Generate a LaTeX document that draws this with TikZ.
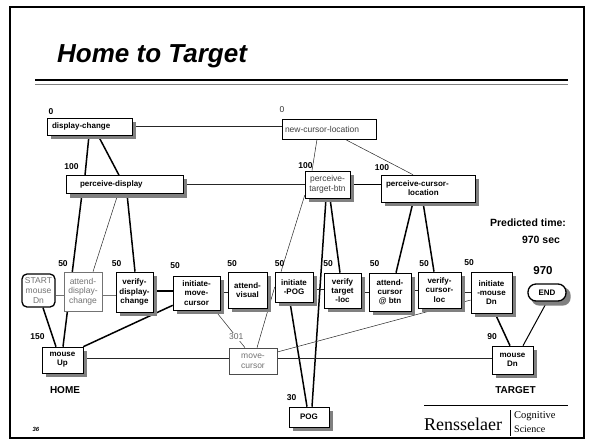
\documentclass[tikz,border=0pt]{standalone}
\usepackage{fontspec}
\setmainfont{Liberation Sans}
\newfontfamily\logofont{Liberation Serif}
\usetikzlibrary{calc}
\pgfdeclarelayer{wires}
\pgfdeclarelayer{shades}
\pgfsetlayers{wires,shades,main}
\colorlet{shadowgray}{black!50}

\begin{document}
\begin{tikzpicture}[x=1pt,y=-1pt,
  op/.style={draw, fill=white, line width=0.6pt, inner sep=0.5pt, align=center,
    font=\fontsize{8}{9.2}\selectfont\bfseries},
  dim/.style={text=black!55, font=\fontsize{8.5}{9.6}\selectfont},
  dur/.style={font=\fontsize{8.5}{10}\selectfont\bfseries, inner sep=0pt},
  big/.style={font=\fontsize{10.5}{12.5}\selectfont\bfseries, inner sep=0pt, align=center},
  thick wire/.style={line width=1.5pt},
  thin wire/.style={line width=0.5pt, black!85},
]
\useasboundingbox (0,0) rectangle (594,440);

% frame and title
\draw[line width=1.2pt] (10,7) rectangle (584,438);
\node[anchor=base west, inner sep=0pt, font=\fontsize{26}{30}\selectfont\bfseries\itshape] (title) at (57,62) {Home to Target};
\draw[line width=2.5pt] (35,80) -- (568,80);
\draw[line width=1.2pt, black!50] (35,84.5) -- (568,84.5);

% perceptual operators
\node[op, text width=75pt, inner xsep=5pt, align=left, minimum height=17pt] (dc) at (89.5,126.5) {display-change};
\node[op, dim, text=black!75, text width=88pt, inner xsep=3pt, align=left, minimum height=20pt] (ncl) at (329,129) {new-cursor-location};
\node[op, text width=89pt, inner xsep=14pt, align=left, minimum height=18pt] (pd) at (124.5,184.5) {perceive-display};
\node[op, dim, text=black!75, minimum width=45pt, minimum height=27pt] (ptb) at (327.5,184.5) {perceive-\\target-btn};
\node[op, text width=84pt, inner xsep=5pt, align=left, minimum height=27pt] (pcl) at (428,188.5) {perceive-cursor-\\\hspace*{22pt}location};

% cognitive operators
\node[op, dim, rounded corners=5pt, line width=1.3pt, draw=black, minimum width=33pt, minimum height=33pt] (start) at (38.5,290.5) {START\\mouse\\Dn};
\node[op, dim, draw=black!55, minimum width=38pt, minimum height=39pt] (adc) at (83,291.5) {attend-\\display-\\change};
\node[op, minimum width=37pt, minimum height=40pt] (vdc) at (134.5,292) {verify-\\display-\\change};
\node[op, minimum width=47pt, minimum height=34pt] (imc) at (196.5,293) {initiate-\\move-\\cursor};
\node[op, minimum width=39pt, minimum height=36pt] (av) at (247.5,290) {attend-\\visual};
\node[op, minimum width=38pt, minimum height=30pt] (ipog) at (294,287) {initiate\\-POG};
\node[op, minimum width=37pt, minimum height=35pt] (vtl) at (342.5,290.5) {verify\\target\\-loc};
\node[op, minimum width=42pt, minimum height=38pt] (acb) at (390,292) {attend-\\cursor\\@ btn};
\node[op, minimum width=43pt, minimum height=36pt] (vcl) at (439.5,290) {verify-\\cursor-\\loc};
\node[op, minimum width=41pt, minimum height=41pt] (imd) at (491.5,292.5) {initiate\\-mouse\\Dn};
\node[op, rounded corners=8pt, line width=1.3pt, minimum width=38pt, minimum height=17pt] (end) at (547,292.5) {END};

% motor operators
\node[op, minimum width=41pt, minimum height=26pt] (mu) at (62.5,360) {mouse\\Up};
\node[op, dim, draw=black!70, minimum width=48pt, minimum height=26pt] (mc) at (253,361) {move-\\cursor};
\node[op, minimum width=41pt, minimum height=28pt] (mdn) at (512.5,360) {mouse\\Dn};
\node[op, minimum width=40pt, minimum height=20pt] (pog) at (309,417) {POG};

% durations
\node[dur] (t-dc) at (51,112) {0};
\node[dur, font=\fontsize{8.5}{10}\selectfont, text=black!80] (t-ncl) at (282,110) {0};
\node[dur] (t-pd) at (71.5,167) {100};
\node[dur] (t-ptb) at (305.5,166) {100};
\node[dur] (t-pcl) at (382,168) {100};
\node[dur] (t-adc) at (63,264) {50};
\node[dur] (t-vdc) at (116.5,264) {50};
\node[dur] (t-imc) at (175,266) {50};
\node[dur] (t-av) at (232,264) {50};
\node[dur] (t-ipog) at (279.5,264) {50};
\node[dur] (t-vtl) at (328,264) {50};
\node[dur] (t-acb) at (374.5,264) {50};
\node[dur] (t-vcl) at (424,264) {50};
\node[dur] (t-imd) at (469,263) {50};
\node[dur] (t-mu) at (37.5,337) {150};
\node[dur] (t-mdn) at (492,337) {90};
\node[dur] (t-pog) at (291.5,398) {30};
\node[font=\fontsize{11.5}{13}\selectfont\bfseries, inner sep=0pt] (t-end) at (543,271) {970};
\node[big] (predicted) at (528,223) {Predicted time:};
\node[big] (total) at (541,240) {970 sec};
\node[big, font=\fontsize{10}{12}\selectfont\bfseries] (home) at (65,390) {HOME};
\node[big, font=\fontsize{10}{12}\selectfont\bfseries] (target) at (515.5,390) {TARGET};
\node[inner sep=0pt, font=\fontsize{6}{7}\selectfont\bfseries\itshape] (pageno) at (36,429) {36};

% logo
\draw[line width=1pt] (424,405) -- (568,405);
\node[anchor=base west, inner sep=0pt, font=\logofont\fontsize{18}{20}\selectfont] (rpi) at (424,430) {Rensselaer};
\draw[line width=1pt] (510,410) -- (510,436);
\node[anchor=base west, inner sep=0pt, font=\logofont\fontsize{10.5}{12}\selectfont] (cog) at (514,418) {Cognitive};
\node[anchor=base west, inner sep=0pt, font=\logofont\fontsize{10}{12}\selectfont] (sci) at (514,432) {Science};

% drop shadows of the boxed operators
\begin{pgfonlayer}{shades}
\foreach \n in {dc,pd,ptb,pcl,vdc,imc,av,ipog,vtl,acb,vcl,imd,mu,mdn,pog}
  \fill[shadowgray] ([shift={(4pt,-4pt)}]\n.south west) rectangle ([shift={(4pt,-4pt)}]\n.north east);
\fill[shadowgray, rounded corners=8pt] ([shift={(4pt,-4pt)}]end.south west) rectangle ([shift={(4pt,-4pt)}]end.north east);
\end{pgfonlayer}

% dependencies
\begin{pgfonlayer}{wires}
\draw[thin wire] (dc.east) -- (dc.east -| ncl.west);
\draw[thick wire] ([xshift=-0.5pt]dc.south) -- ([xshift=-39.5pt]pd.north);
\draw[thick wire] ([xshift=8.5pt]dc.south) -- ([xshift=-5.5pt]pd.north);
\draw[thin wire] (pd.east) -- (pd.east -| ptb.west);
\draw[thin wire] ([xshift=-12pt]ncl.south) -- ([xshift=-15.5pt]ptb.north);
\draw[thin wire] ([xshift=16pt]ncl.south) -- ([xshift=-15pt]pcl.north);
\draw[thick wire] (ptb.east) -- (ptb.east -| pcl.west);
\draw[thick wire] ([xshift=-42.5pt]pd.south) -- ([xshift=0.5pt]mu.north);
\draw[thin wire] ([xshift=-6.5pt]pd.south) -- ([xshift=10pt]adc.north);
\draw[thick wire] ([xshift=2.5pt]pd.south) -- ([xshift=0.5pt]vdc.north);
\draw[thin wire] ([yshift=3pt]ptb.south west) -- ([xshift=-13pt]ipog.north);
\draw[thick wire] ([xshift=3pt]pog.north) -- ([xshift=-1.5pt]ptb.south);
\draw[thick wire] ([xshift=2.5pt]ptb.south) -- ([xshift=-2.5pt]vtl.north);
\draw[thick wire] ([xshift=-4pt]ipog.south) -- ([xshift=-2pt]pog.north);
\draw[thick wire] ([xshift=-15pt]pcl.south) -- ([xshift=6pt]acb.north);
\draw[thick wire] ([xshift=-5pt]pcl.south) -- ([xshift=-5.5pt]vcl.north);
\draw[thin wire, black!55] ([yshift=-4.5pt]start.east) -- ([yshift=-3.5pt]adc.west);
\draw[thin wire, black!55] ([yshift=-3.5pt]adc.east) -- ([yshift=-3pt]vdc.west);
\draw[thick wire] ([yshift=1pt]vdc.east) -- ([yshift=2pt]imc.west);
\draw[thin wire] ([yshift=1pt]imc.east) -- ([yshift=-2pt]av.west);
\draw[thin wire] ([xshift=4pt]mc.north) -- (ipog.west);
\draw[thin wire] ([yshift=-2pt]ipog.east) -- ([yshift=1.5pt]vtl.west);
\draw[thin wire] ([yshift=-1.5pt]vtl.east) -- (acb.west);
\draw[thin wire] ([yshift=2pt]acb.east) -- (vcl.west);
\draw[thin wire] ([yshift=-2pt]vcl.east) -- ([yshift=0.5pt]imd.west);
\draw[thin wire] ([yshift=9pt]mc.east) -- ([yshift=-7.5pt]imd.west);
\draw[thick wire] (mu.north east) -- ([yshift=5pt]imc.south west);
\draw[thin wire] ([xshift=18.5pt]imc.south) -- node[pos=0.71, fill=white, inner sep=1pt, text=black!60, font=\fontsize{8.5}{10}\selectfont] (t-mc) {301} ([xshift=-8pt]mc.north);
\draw[thin wire] ([yshift=2pt]mu.east) -- ([yshift=3pt]mc.west);
\draw[thin wire] ([yshift=3pt]mc.east) -- ([yshift=2pt]mdn.west);
\draw[thick wire] ([xshift=4.5pt]start.south) -- ([xshift=-6.5pt]mu.north);
\draw[thick wire] ([xshift=3.5pt]imd.south) -- ([xshift=-2.5pt]mdn.north);
\draw[line width=1pt] (end.south) -- ([xshift=10.5pt]mdn.north);
\end{pgfonlayer}
\end{tikzpicture}
\end{document}
